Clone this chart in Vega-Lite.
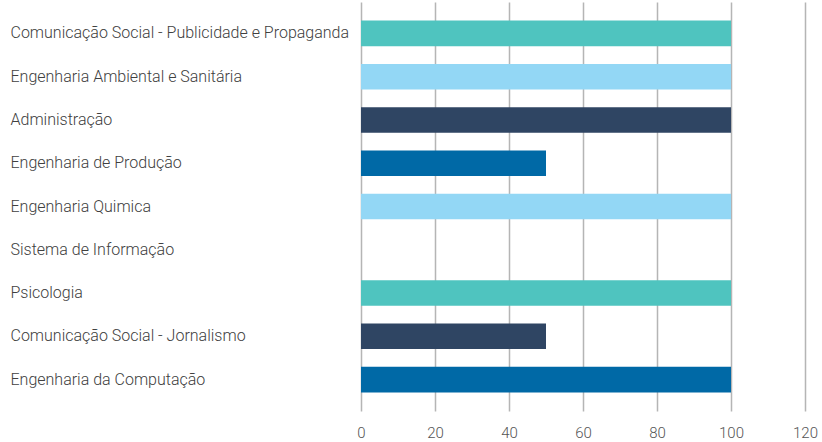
{
  "$schema": "https://vega.github.io/schema/vega-lite/v6.json",
  "width": 444,
  "height": 409,
  "autosize": {"type": "none"},
  "padding": {"left": 361, "top": 2, "right": 17, "bottom": 31},
  "background": "#ffffff",
  "config": {"view": {"stroke": null}, "font": "Roboto"},
  "data": {
    "values": [
      {"curso": "Comunicação Social - Publicidade e Propaganda", "valor": 100},
      {"curso": "Engenharia Ambiental e Sanitária", "valor": 100},
      {"curso": "Administração", "valor": 100},
      {"curso": "Engenharia de Produção", "valor": 50},
      {"curso": "Engenharia Quimica", "valor": 100},
      {"curso": "Sistema de Informação", "valor": 0},
      {"curso": "Psicologia", "valor": 100},
      {"curso": "Comunicação Social - Jornalismo", "valor": 50},
      {"curso": "Engenharia da Computação", "valor": 100}
    ]
  },
  "mark": {"type": "bar"},
  "encoding": {
    "y": {
      "field": "curso",
      "type": "nominal",
      "sort": null,
      "scale": {"paddingInner": 0.41, "paddingOuter": 0.43},
      "axis": {
        "title": null,
        "ticks": false,
        "domain": false,
        "grid": false,
        "labelAlign": "left",
        "labelPadding": 351,
        "labelFontSize": 16,
        "labelFontWeight": 300,
        "labelColor": "#404040",
        "labelLimit": 400
      }
    },
    "x": {
      "field": "valor",
      "type": "quantitative",
      "scale": {"domain": [0, 120], "nice": false},
      "axis": {
        "title": null,
        "values": [0, 20, 40, 60, 80, 100, 120],
        "domain": false,
        "ticks": false,
        "grid": true,
        "gridColor": "#b5b5b5",
        "gridWidth": 1.5,
        "labelPadding": 14,
        "labelFontSize": 15,
        "labelFontWeight": 300,
        "labelColor": "#555555",
        "labelFlush": false
      }
    },
    "color": {
      "field": "curso",
      "type": "nominal",
      "legend": null,
      "scale": {
        "domain": [
          "Comunicação Social - Publicidade e Propaganda",
          "Engenharia Ambiental e Sanitária",
          "Administração",
          "Engenharia de Produção",
          "Engenharia Quimica",
          "Sistema de Informação",
          "Psicologia",
          "Comunicação Social - Jornalismo",
          "Engenharia da Computação"
        ],
        "range": ["#4fc4bf", "#93d7f5", "#2f4563", "#0069a6", "#93d7f5", "#4fc4bf", "#4fc4bf", "#2f4563", "#0069a6"]
      }
    }
  }
}
